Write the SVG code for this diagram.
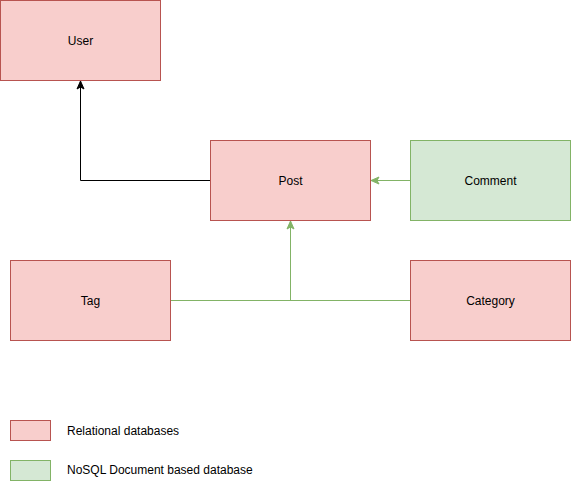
<svg xmlns="http://www.w3.org/2000/svg" width="571" height="481" viewBox="0 0 571 481">
<style>
.red{fill:#f8cecc;stroke:#b85450;stroke-width:1}
.green{fill:#d5e8d4;stroke:#82b366;stroke-width:1}
text{font-family:"Liberation Sans",Arial,Helvetica,sans-serif;font-size:12px;fill:#000}
.c{text-anchor:middle;dominant-baseline:central}
.l{text-anchor:start;dominant-baseline:central}
.blk{fill:none;stroke:#000;stroke-width:1}
.grn{fill:none;stroke:#82b366;stroke-width:1}
</style>
<defs>
<marker id="ab" markerUnits="userSpaceOnUse" markerWidth="10" markerHeight="10" viewBox="0 0 10 10" refX="9" refY="5" orient="auto">
<path d="M1,1.5 L9,5 L1,8.5 L3,5 Z" fill="#000" stroke="#000" stroke-width="1"/>
</marker>
<marker id="ag" markerUnits="userSpaceOnUse" markerWidth="10" markerHeight="10" viewBox="0 0 10 10" refX="9" refY="5" orient="auto">
<path d="M1,1.5 L9,5 L1,8.5 L3,5 Z" fill="#82b366" stroke="#82b366" stroke-width="1"/>
</marker>
</defs>
<g id="connectors">
<path class="blk" d="M210.5,180.5 L80.5,180.5 L80.5,81" marker-end="url(#ab)"/>
<path class="grn" d="M410.5,180.5 L371,180.5" marker-end="url(#ag)"/>
<path class="grn" d="M170.5,300.5 L410.5,300.5"/>
<path class="grn" d="M290.5,300.5 L290.5,221" marker-end="url(#ag)"/>
</g>
<g id="user"><rect class="red" x="0.5" y="0.5" width="160" height="80"/><text class="c" x="80.5" y="40.5">User</text></g>
<g id="post"><rect class="red" x="210.5" y="140.5" width="160" height="80"/><text class="c" x="290.5" y="180.5">Post</text></g>
<g id="comment"><rect class="green" x="410.5" y="140.5" width="160" height="80"/><text class="c" x="490.5" y="180.5">Comment</text></g>
<g id="tag"><rect class="red" x="10.5" y="260.5" width="160" height="80"/><text class="c" x="90.5" y="300.5">Tag</text></g>
<g id="category"><rect class="red" x="410.5" y="260.5" width="160" height="80"/><text class="c" x="490.5" y="300.5">Category</text></g>
<g id="legend-relational"><rect class="red" x="10.5" y="420.5" width="40" height="20"/><text class="l" x="67" y="430.5">Relational databases</text></g>
<g id="legend-nosql"><rect class="green" x="10.5" y="460.5" width="40" height="20"/><text class="l" x="67" y="469.5">NoSQL Document based database</text></g>
</svg>
